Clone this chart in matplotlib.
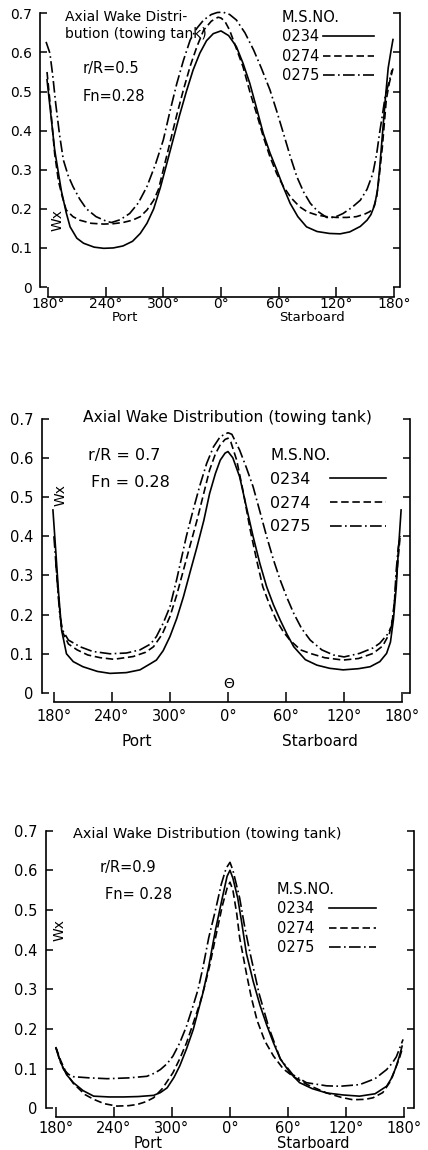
import matplotlib.pyplot as plt

# angles: -180 (port side) .. 0 .. 180 (starboard side)
tick_pos = [-180, -120, -60, 0, 60, 120, 180]
tick_lbl = ['180°', '240°', '300°', '0°', '60°', '120°', '180°']
wx_ticks = [0, 0.1, 0.2, 0.3, 0.4, 0.5, 0.6, 0.7]
wx_lbl = ['0', '0.1', '0.2', '0.3', '0.4', '0.5', '0.6', '0.7']
ship_no = ['0234', '0274', '0275']

# r/R = 0.5
r05_0234_th = [-181, -177, -173, -169, -166, -161, -157, -150, -143, -132, -122, -112, -102, -92, -84, -77,
               -70, -63, -57, -50, -43, -36, -29, -22, -15, -8, 0, 8, 16, 23, 30, 37, 44, 51, 58, 65, 72,
               80, 89, 100, 113, 124, 134, 145, 152, 156, 160, 163, 165, 167, 169, 171, 174, 177, 179]
r05_0234_wx = [0.53, 0.44, 0.35, 0.29, 0.245, 0.19, 0.154, 0.125, 0.112, 0.102, 0.099, 0.10, 0.105, 0.117,
               0.137, 0.163, 0.20, 0.255, 0.31, 0.375, 0.44, 0.50, 0.555, 0.598, 0.63, 0.648, 0.655, 0.643,
               0.615, 0.572, 0.521, 0.458, 0.393, 0.343, 0.30, 0.255, 0.214, 0.18, 0.154, 0.142, 0.137,
               0.136, 0.141, 0.155, 0.171, 0.185, 0.21, 0.25, 0.30, 0.36, 0.42, 0.48, 0.56, 0.605, 0.633]
r05_0274_th = [-181, -177, -173, -169, -165, -161, -154, -147, -135, -122, -112, -102, -92, -84, -77, -70,
               -65, -60, -53, -46, -39, -32, -25, -18, -10, -3, 0, 4, 9, 16, 23, 30, 37, 44, 51, 58, 65,
               73, 82, 90, 100, 110, 120, 131, 141, 150, 155, 159, 162, 165, 168, 172, 175, 179]
r05_0274_wx = [0.55, 0.45, 0.34, 0.27, 0.23, 0.197, 0.18, 0.171, 0.163, 0.161, 0.162, 0.165, 0.171, 0.18,
               0.197, 0.222, 0.25, 0.30, 0.37, 0.44, 0.505, 0.565, 0.615, 0.657, 0.68, 0.69, 0.688, 0.68,
               0.657, 0.61, 0.563, 0.50, 0.444, 0.385, 0.333, 0.29, 0.257, 0.228, 0.205, 0.192, 0.184,
               0.18, 0.178, 0.178, 0.18, 0.187, 0.193, 0.205, 0.23, 0.29, 0.36, 0.478, 0.52, 0.559]
r05_0275_th = [-182, -178, -175, -172, -168, -164, -159, -154, -147, -140, -130, -119, -114, -105, -95,
               -86, -77, -68, -60, -53, -46, -39, -32, -25, -18, -10, -4, 2, 9, 16, 25, 34, 42, 51, 58,
               65, 72, 79, 86, 93, 101, 110, 118, 127, 136, 145, 152, 158, 162, 165, 168, 171, 175, 178]
r05_0275_wx = [0.627, 0.598, 0.54, 0.47, 0.39, 0.325, 0.285, 0.257, 0.225, 0.20, 0.18, 0.168, 0.165,
               0.172, 0.188, 0.215, 0.257, 0.315, 0.376, 0.45, 0.52, 0.58, 0.632, 0.662, 0.683, 0.697,
               0.702, 0.703, 0.697, 0.683, 0.65, 0.606, 0.56, 0.504, 0.45, 0.393, 0.335, 0.282, 0.243,
               0.214, 0.193, 0.178, 0.178, 0.188, 0.203, 0.222, 0.25, 0.29, 0.34, 0.393, 0.44, 0.49,
               0.525, 0.555]

# r/R = 0.7
r07_0234_th = [-181, -178, -175, -172, -167, -160, -150, -135, -122, -105, -91, -80, -74, -67, -60, -53,
               -46, -39, -32, -25, -19, -13, -8, -3, 0, 5, 12, 19, 26, 33, 40, 47, 54, 61, 68, 80, 92,
               105, 119, 135, 147, 157, 164, 168, 171, 174, 176, 179]
r07_0234_wx = [0.467, 0.36, 0.25, 0.16, 0.10, 0.08, 0.067, 0.055, 0.05, 0.052, 0.059, 0.075, 0.084,
               0.108, 0.144, 0.19, 0.246, 0.31, 0.373, 0.44, 0.509, 0.56, 0.594, 0.612, 0.616, 0.60,
               0.552, 0.475, 0.399, 0.33, 0.271, 0.225, 0.186, 0.15, 0.118, 0.085, 0.071, 0.063, 0.059,
               0.062, 0.067, 0.08, 0.101, 0.13, 0.186, 0.27, 0.356, 0.467]
r07_0274_th = [-178, -175, -172, -165, -156, -145, -132, -118, -98, -85, -77, -68, -60, -53, -46, -39,
               -32, -25, -19, -13, -8, -3, 0, 3, 9, 16, 23, 30, 36, 43, 50, 57, 64, 75, 85, 100, 119,
               135, 150, 160, 167, 171, 174, 178]
r07_0274_wx = [0.33, 0.24, 0.16, 0.125, 0.11, 0.097, 0.09, 0.086, 0.093, 0.104, 0.118, 0.15, 0.195,
               0.25, 0.314, 0.378, 0.441, 0.51, 0.569, 0.61, 0.633, 0.647, 0.65, 0.64, 0.594, 0.51,
               0.416, 0.335, 0.271, 0.225, 0.186, 0.157, 0.135, 0.11, 0.101, 0.09, 0.084, 0.088, 0.101,
               0.12, 0.152, 0.2, 0.29, 0.40]
r07_0275_th = [-180, -177, -174, -171, -165, -153, -140, -122, -105, -91, -80, -74, -67, -60, -53, -43,
               -36, -29, -22, -15, -8, 0, 4, 12, 19, 26, 33, 40, 47, 54, 61, 68, 76, 85, 97, 109, 120,
               136, 150, 157, 165, 169, 172, 174, 176, 178]
r07_0275_wx = [0.40, 0.30, 0.20, 0.16, 0.135, 0.118, 0.106, 0.10, 0.102, 0.11, 0.125, 0.144, 0.178,
               0.22, 0.29, 0.40, 0.467, 0.53, 0.586, 0.628, 0.654, 0.664, 0.66, 0.62, 0.575, 0.526,
               0.463, 0.399, 0.34, 0.288, 0.243, 0.203, 0.165, 0.135, 0.11, 0.097, 0.092, 0.101, 0.115,
               0.127, 0.15, 0.169, 0.23, 0.314, 0.37, 0.40]

# r/R = 0.9
r09_0234_th = [-180, -175, -169, -162, -152, -141, -125, -110, -95, -79, -72, -65, -58, -52, -45, -38,
               -33, -28, -22, -15, -8, -3, 0, 3, 8, 12, 17, 24, 31, 38, 45, 52, 62, 72, 85, 100, 117,
               134, 150, 162, 168, 172, 175, 178]
r09_0234_wx = [0.153, 0.115, 0.085, 0.065, 0.045, 0.031, 0.029, 0.029, 0.030, 0.033, 0.04, 0.052, 0.078,
               0.107, 0.15, 0.199, 0.245, 0.291, 0.358, 0.45, 0.53, 0.585, 0.60, 0.58, 0.53, 0.47, 0.39,
               0.32, 0.26, 0.21, 0.165, 0.125, 0.09, 0.065, 0.05, 0.039, 0.034, 0.031, 0.037, 0.056,
               0.08, 0.107, 0.13, 0.157]
r09_0274_th = [-180, -175, -169, -162, -150, -141, -130, -117, -105, -96, -87, -79, -70, -59, -52, -45,
               -38, -31, -26, -21, -15, -8, -3, 0, 3, 7, 10, 17, 22, 28, 36, 45, 55, 65, 80, 100, 115,
               127, 140, 148, 158, 165, 171, 175, 178]
r09_0274_wx = [0.153, 0.12, 0.088, 0.063, 0.035, 0.023, 0.012, 0.006, 0.007, 0.01, 0.017, 0.027, 0.05,
               0.09, 0.125, 0.165, 0.215, 0.266, 0.31, 0.36, 0.43, 0.51, 0.555, 0.57, 0.55, 0.49, 0.43,
               0.34, 0.28, 0.222, 0.17, 0.132, 0.1, 0.081, 0.06, 0.039, 0.028, 0.022, 0.023, 0.027,
               0.04, 0.065, 0.1, 0.125, 0.149]
r09_0275_th = [-180, -176, -172, -167, -162, -145, -127, -105, -86, -78, -72, -65, -59, -52, -45, -38,
               -33, -28, -22, -15, -9, -4, 0, 3, 7, 10, 15, 20, 25, 30, 40, 52, 65, 79, 100, 114, 134,
               150, 162, 168, 172, 176, 179]
r09_0275_wx = [0.153, 0.12, 0.098, 0.086, 0.08, 0.077, 0.075, 0.077, 0.081, 0.089, 0.098, 0.113, 0.132,
               0.165, 0.207, 0.26, 0.30, 0.355, 0.43, 0.5, 0.565, 0.605, 0.62, 0.60, 0.56, 0.53, 0.46,
               0.40, 0.345, 0.29, 0.205, 0.125, 0.085, 0.065, 0.057, 0.056, 0.06, 0.075, 0.098, 0.115,
               0.13, 0.155, 0.174]

styles = ['-', (0, (4.5, 2.2)), (0, (7, 2, 1, 2))]

fig = plt.figure(figsize=(4.28, 11.5), dpi=100)


def frame(ax, xlim, ylim, fs, xpad):
    ax.set_xlim(xlim)
    ax.set_ylim(ylim)
    ax.spines['top'].set_visible(False)
    for s in ('left', 'right', 'bottom'):
        ax.spines[s].set_linewidth(1.2)
    ax.spines['left'].set_bounds(0, 0.7)
    ax.spines['right'].set_bounds(0, 0.7)
    ax.spines['bottom'].set_bounds(-180, 180)
    ax.set_xticks(tick_pos, tick_lbl, fontsize=fs)
    ax.set_yticks(wx_ticks, wx_lbl, fontsize=fs)
    ax.tick_params(axis='y', direction='in', length=5, width=1.1, right=True, pad=6)
    ax.tick_params(axis='x', direction='in', length=7, width=1.1, pad=xpad)


def curves(ax, series):
    for (th, wx), ls, name in zip(series, styles, ship_no):
        ax.plot(th, wx, color='black', lw=1.2, ls=ls, label=name, clip_on=False)


# ---- r/R = 0.5 ----
ax1 = fig.add_axes([40 / 428, 1 - 297.2 / 1150, 360 / 428, 287.8 / 1150])
curves(ax1, [(r05_0234_th, r05_0234_wx), (r05_0274_th, r05_0274_wx), (r05_0275_th, r05_0275_wx)])
frame(ax1, (-188.3, 186.3), (-0.026, 0.71), 10, 0)
ax1.text(-162, 0.69, 'Axial Wake Distri-', fontsize=10, va='center')
ax1.text(-162, 0.648, 'bution (towing tank)', fontsize=10, va='center')
ax1.text(-143.5, 0.56, 'r/R=0.5', fontsize=10.5, va='center')
ax1.text(-143.5, 0.486, 'Fn=0.28', fontsize=10.5, va='center')
ax1.text(-170.5, 0.171, 'Wx', fontsize=10, rotation=90, ha='center', va='center')
ax1.text(-100, -0.077, 'Port', fontsize=9.5, ha='center', va='center', clip_on=False)
ax1.text(95, -0.077, 'Starboard', fontsize=9.5, ha='center', va='center', clip_on=False)
ax1.legend(title='M.S.NO.', loc='upper left', bbox_to_anchor=(0.672, 0.998), frameon=False,
           markerfirst=False, handlelength=3.5, handletextpad=0.25, labelspacing=0.3, borderpad=0,
           borderaxespad=0, alignment='left', fontsize=10.5, title_fontsize=10.5)

# ---- r/R = 0.7 ----
ax2 = fig.add_axes([42 / 428, 1 - 702 / 1150, 368 / 428, 287.3 / 1150])
curves(ax2, [(r07_0234_th, r07_0234_wx), (r07_0274_th, r07_0274_wx), (r07_0275_th, r07_0275_wx)])
frame(ax2, (-192.3, 188.2), (-0.023, 0.71), 10.5, 5)
ax2.text(-150, 0.704, 'Axial Wake Distribution (towing tank)', fontsize=11.2, va='center')
ax2.text(-144.8, 0.607, 'r/R = 0.7', fontsize=11.5, va='center')
ax2.text(-141.7, 0.538, 'Fn = 0.28', fontsize=11.5, va='center')
ax2.text(-172.7, 0.505, 'Wx', fontsize=10, rotation=90, ha='center', va='center')
ax2.text(1, 0.022, 'Θ', fontsize=10, ha='center', va='center')
ax2.text(-94, -0.125, 'Port', fontsize=11, ha='center', va='center', clip_on=False)
ax2.text(95, -0.125, 'Starboard', fontsize=11, ha='center', va='center', clip_on=False)
ax2.legend(title='M.S.NO.', loc='upper left', bbox_to_anchor=(0.62, 0.884), frameon=False,
           markerfirst=False, handlelength=3.5, handletextpad=1.2, labelspacing=0.55, borderpad=0,
           borderaxespad=0, alignment='left', fontsize=11.5, title_fontsize=11)

# ---- r/R = 0.9 ----
ax3 = fig.add_axes([46 / 428, 1 - 1117.2 / 1150, 368 / 428, 290.6 / 1150])
curves(ax3, [(r09_0234_th, r09_0234_wx), (r09_0274_th, r09_0274_wx), (r09_0275_th, r09_0275_wx)])
frame(ax3, (-190.3, 190.3), (-0.022, 0.71), 10.5, 3)
ax3.text(-162.4, 0.691, 'Axial Wake Distribution (towing tank)', fontsize=10.4, va='center')
ax3.text(-134.4, 0.606, 'r/R=0.9', fontsize=10.5, va='center')
ax3.text(-129.3, 0.538, 'Fn= 0.28', fontsize=10.5, va='center')
ax3.text(-175.8, 0.45, 'Wx', fontsize=10, rotation=90, ha='center', va='center')
ax3.text(-85, -0.089, 'Port', fontsize=10.5, ha='center', va='center', clip_on=False)
ax3.text(86, -0.089, 'Starboard', fontsize=10.5, ha='center', va='center', clip_on=False)
ax3.legend(title='M.S.NO.', loc='upper left', bbox_to_anchor=(0.628, 0.809), frameon=False,
           markerfirst=False, handlelength=3.2, handletextpad=1.0, labelspacing=0.3, borderpad=0,
           borderaxespad=0, alignment='left', fontsize=10.5, title_fontsize=10.5)

fig.savefig('out.png', dpi=100)
